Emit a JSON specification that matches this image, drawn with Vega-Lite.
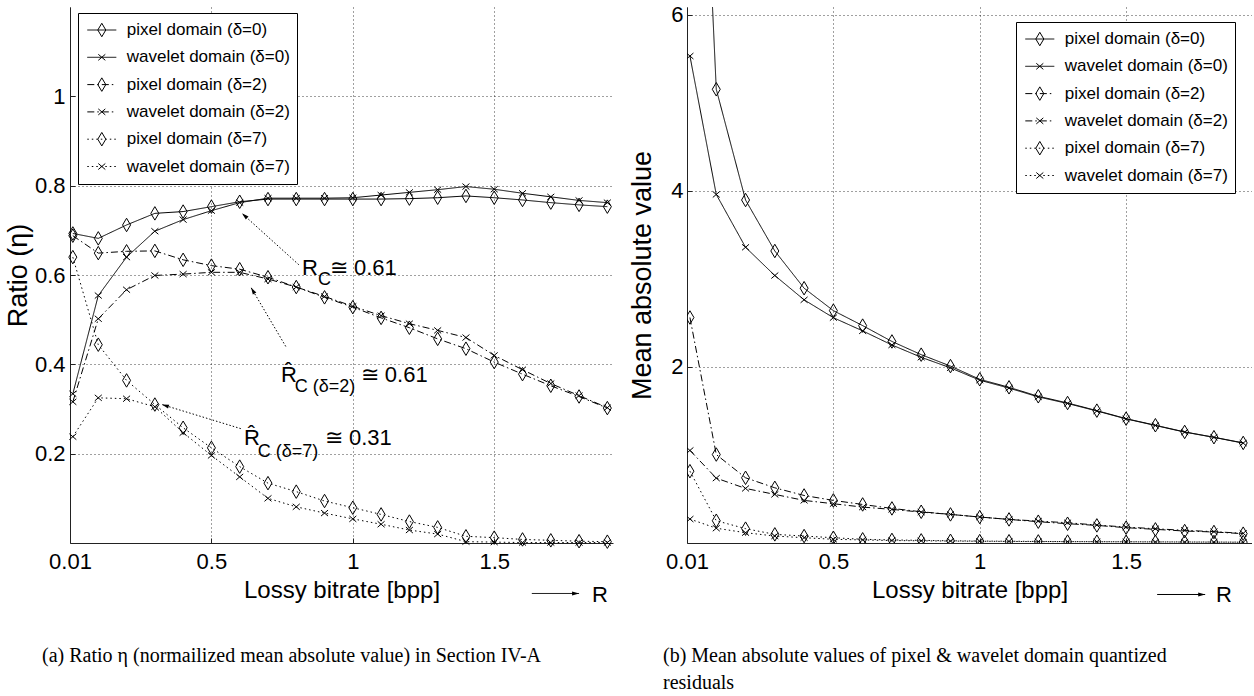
{
 "$schema": "https://vega.github.io/schema/vega-lite/v6.json",
 "background": "white",
 "padding": {"left": 4, "top": 3, "right": 0, "bottom": 0},
 "bounds": "flush",
 "spacing": 74,
 "config": {
  "view": {"stroke": null},
  "font": "Liberation Sans",
  "axis": {"labelFont": "Liberation Sans", "titleFont": "Liberation Sans", "labelColor": "black", "titleColor": "black", "titleFontWeight": "normal", "domainColor": "#222", "tickColor": "#222", "gridColor": "#000", "gridDash": [1, 3], "gridOpacity": 0.75, "labelFontSize": 22, "titleFontSize": 24, "tickSize": -5},
  "legend": {"labelFont": "Liberation Sans"},
  "title": {"font": "Liberation Serif"}
 },
 "datasets": {
  "ratio": [
   {"series":"pixel domain (δ=0)","x":0.01,"v":0.693},{"series":"pixel domain (δ=0)","x":0.1,"v":0.682},{"series":"pixel domain (δ=0)","x":0.2,"v":0.712},{"series":"pixel domain (δ=0)","x":0.3,"v":0.738},{"series":"pixel domain (δ=0)","x":0.4,"v":0.742},{"series":"pixel domain (δ=0)","x":0.5,"v":0.753},{"series":"pixel domain (δ=0)","x":0.6,"v":0.764},{"series":"pixel domain (δ=0)","x":0.7,"v":0.770},{"series":"pixel domain (δ=0)","x":0.8,"v":0.770},{"series":"pixel domain (δ=0)","x":0.9,"v":0.770},{"series":"pixel domain (δ=0)","x":1.0,"v":0.770},{"series":"pixel domain (δ=0)","x":1.1,"v":0.770},{"series":"pixel domain (δ=0)","x":1.2,"v":0.771},{"series":"pixel domain (δ=0)","x":1.3,"v":0.773},{"series":"pixel domain (δ=0)","x":1.4,"v":0.777},{"series":"pixel domain (δ=0)","x":1.5,"v":0.773},{"series":"pixel domain (δ=0)","x":1.6,"v":0.768},{"series":"pixel domain (δ=0)","x":1.7,"v":0.762},{"series":"pixel domain (δ=0)","x":1.8,"v":0.757},{"series":"pixel domain (δ=0)","x":1.9,"v":0.753},
   {"series":"wavelet domain (δ=0)","x":0.01,"v":0.334},{"series":"wavelet domain (δ=0)","x":0.1,"v":0.554},{"series":"wavelet domain (δ=0)","x":0.2,"v":0.640},{"series":"wavelet domain (δ=0)","x":0.3,"v":0.698},{"series":"wavelet domain (δ=0)","x":0.4,"v":0.724},{"series":"wavelet domain (δ=0)","x":0.5,"v":0.744},{"series":"wavelet domain (δ=0)","x":0.6,"v":0.762},{"series":"wavelet domain (δ=0)","x":0.7,"v":0.772},{"series":"wavelet domain (δ=0)","x":0.8,"v":0.772},{"series":"wavelet domain (δ=0)","x":0.9,"v":0.772},{"series":"wavelet domain (δ=0)","x":1.0,"v":0.773},{"series":"wavelet domain (δ=0)","x":1.1,"v":0.779},{"series":"wavelet domain (δ=0)","x":1.2,"v":0.785},{"series":"wavelet domain (δ=0)","x":1.3,"v":0.791},{"series":"wavelet domain (δ=0)","x":1.4,"v":0.798},{"series":"wavelet domain (δ=0)","x":1.5,"v":0.792},{"series":"wavelet domain (δ=0)","x":1.6,"v":0.783},{"series":"wavelet domain (δ=0)","x":1.7,"v":0.775},{"series":"wavelet domain (δ=0)","x":1.8,"v":0.767},{"series":"wavelet domain (δ=0)","x":1.9,"v":0.762},
   {"series":"pixel domain (δ=2)","x":0.01,"v":0.688},{"series":"pixel domain (δ=2)","x":0.1,"v":0.649},{"series":"pixel domain (δ=2)","x":0.2,"v":0.653},{"series":"pixel domain (δ=2)","x":0.3,"v":0.654},{"series":"pixel domain (δ=2)","x":0.4,"v":0.634},{"series":"pixel domain (δ=2)","x":0.5,"v":0.621},{"series":"pixel domain (δ=2)","x":0.6,"v":0.613},{"series":"pixel domain (δ=2)","x":0.7,"v":0.595},{"series":"pixel domain (δ=2)","x":0.8,"v":0.573},{"series":"pixel domain (δ=2)","x":0.9,"v":0.550},{"series":"pixel domain (δ=2)","x":1.0,"v":0.528},{"series":"pixel domain (δ=2)","x":1.1,"v":0.504},{"series":"pixel domain (δ=2)","x":1.2,"v":0.482},{"series":"pixel domain (δ=2)","x":1.3,"v":0.457},{"series":"pixel domain (δ=2)","x":1.4,"v":0.435},{"series":"pixel domain (δ=2)","x":1.5,"v":0.405},{"series":"pixel domain (δ=2)","x":1.6,"v":0.378},{"series":"pixel domain (δ=2)","x":1.7,"v":0.352},{"series":"pixel domain (δ=2)","x":1.8,"v":0.328},{"series":"pixel domain (δ=2)","x":1.9,"v":0.302},
   {"series":"wavelet domain (δ=2)","x":0.01,"v":0.316},{"series":"wavelet domain (δ=2)","x":0.1,"v":0.502},{"series":"wavelet domain (δ=2)","x":0.2,"v":0.567},{"series":"wavelet domain (δ=2)","x":0.3,"v":0.599},{"series":"wavelet domain (δ=2)","x":0.4,"v":0.602},{"series":"wavelet domain (δ=2)","x":0.5,"v":0.606},{"series":"wavelet domain (δ=2)","x":0.6,"v":0.606},{"series":"wavelet domain (δ=2)","x":0.7,"v":0.591},{"series":"wavelet domain (δ=2)","x":0.8,"v":0.573},{"series":"wavelet domain (δ=2)","x":0.9,"v":0.552},{"series":"wavelet domain (δ=2)","x":1.0,"v":0.530},{"series":"wavelet domain (δ=2)","x":1.1,"v":0.509},{"series":"wavelet domain (δ=2)","x":1.2,"v":0.491},{"series":"wavelet domain (δ=2)","x":1.3,"v":0.476},{"series":"wavelet domain (δ=2)","x":1.4,"v":0.460},{"series":"wavelet domain (δ=2)","x":1.5,"v":0.420},{"series":"wavelet domain (δ=2)","x":1.6,"v":0.388},{"series":"wavelet domain (δ=2)","x":1.7,"v":0.357},{"series":"wavelet domain (δ=2)","x":1.8,"v":0.330},{"series":"wavelet domain (δ=2)","x":1.9,"v":0.303},
   {"series":"pixel domain (δ=7)","x":0.01,"v":0.640},{"series":"pixel domain (δ=7)","x":0.1,"v":0.444},{"series":"pixel domain (δ=7)","x":0.2,"v":0.364},{"series":"pixel domain (δ=7)","x":0.3,"v":0.310},{"series":"pixel domain (δ=7)","x":0.4,"v":0.258},{"series":"pixel domain (δ=7)","x":0.5,"v":0.213},{"series":"pixel domain (δ=7)","x":0.6,"v":0.171},{"series":"pixel domain (δ=7)","x":0.7,"v":0.134},{"series":"pixel domain (δ=7)","x":0.8,"v":0.115},{"series":"pixel domain (δ=7)","x":0.9,"v":0.094},{"series":"pixel domain (δ=7)","x":1.0,"v":0.079},{"series":"pixel domain (δ=7)","x":1.1,"v":0.064},{"series":"pixel domain (δ=7)","x":1.2,"v":0.048},{"series":"pixel domain (δ=7)","x":1.3,"v":0.035},{"series":"pixel domain (δ=7)","x":1.4,"v":0.015},{"series":"pixel domain (δ=7)","x":1.5,"v":0.012},{"series":"pixel domain (δ=7)","x":1.6,"v":0.008},{"series":"pixel domain (δ=7)","x":1.7,"v":0.006},{"series":"pixel domain (δ=7)","x":1.8,"v":0.004},{"series":"pixel domain (δ=7)","x":1.9,"v":0.003},
   {"series":"wavelet domain (δ=7)","x":0.01,"v":0.238},{"series":"wavelet domain (δ=7)","x":0.1,"v":0.325},{"series":"wavelet domain (δ=7)","x":0.2,"v":0.323},{"series":"wavelet domain (δ=7)","x":0.3,"v":0.305},{"series":"wavelet domain (δ=7)","x":0.4,"v":0.247},{"series":"wavelet domain (δ=7)","x":0.5,"v":0.196},{"series":"wavelet domain (δ=7)","x":0.6,"v":0.148},{"series":"wavelet domain (δ=7)","x":0.7,"v":0.100},{"series":"wavelet domain (δ=7)","x":0.8,"v":0.081},{"series":"wavelet domain (δ=7)","x":0.9,"v":0.067},{"series":"wavelet domain (δ=7)","x":1.0,"v":0.054},{"series":"wavelet domain (δ=7)","x":1.1,"v":0.042},{"series":"wavelet domain (δ=7)","x":1.2,"v":0.029},{"series":"wavelet domain (δ=7)","x":1.3,"v":0.020},{"series":"wavelet domain (δ=7)","x":1.4,"v":0.003},{"series":"wavelet domain (δ=7)","x":1.5,"v":0.002},{"series":"wavelet domain (δ=7)","x":1.6,"v":0.001},{"series":"wavelet domain (δ=7)","x":1.7,"v":0.001},{"series":"wavelet domain (δ=7)","x":1.8,"v":0.001},{"series":"wavelet domain (δ=7)","x":1.9,"v":0.001}
  ],
  "mav": [
   {"series":"pixel domain (δ=0)","x":0.01,"v":11.7},{"series":"pixel domain (δ=0)","x":0.1,"v":5.155},{"series":"pixel domain (δ=0)","x":0.2,"v":3.897},{"series":"pixel domain (δ=0)","x":0.3,"v":3.318},{"series":"pixel domain (δ=0)","x":0.4,"v":2.895},{"series":"pixel domain (δ=0)","x":0.5,"v":2.64},{"series":"pixel domain (δ=0)","x":0.6,"v":2.47},{"series":"pixel domain (δ=0)","x":0.7,"v":2.29},{"series":"pixel domain (δ=0)","x":0.8,"v":2.14},{"series":"pixel domain (δ=0)","x":0.9,"v":2.01},{"series":"pixel domain (δ=0)","x":1.0,"v":1.86},{"series":"pixel domain (δ=0)","x":1.1,"v":1.769},{"series":"pixel domain (δ=0)","x":1.2,"v":1.667},{"series":"pixel domain (δ=0)","x":1.3,"v":1.591},{"series":"pixel domain (δ=0)","x":1.4,"v":1.504},{"series":"pixel domain (δ=0)","x":1.5,"v":1.413},{"series":"pixel domain (δ=0)","x":1.6,"v":1.338},{"series":"pixel domain (δ=0)","x":1.7,"v":1.262},{"series":"pixel domain (δ=0)","x":1.8,"v":1.202},{"series":"pixel domain (δ=0)","x":1.9,"v":1.137},
   {"series":"wavelet domain (δ=0)","x":0.01,"v":5.533},{"series":"wavelet domain (δ=0)","x":0.1,"v":3.96},{"series":"wavelet domain (δ=0)","x":0.2,"v":3.36},{"series":"wavelet domain (δ=0)","x":0.3,"v":3.039},{"series":"wavelet domain (δ=0)","x":0.4,"v":2.763},{"series":"wavelet domain (δ=0)","x":0.5,"v":2.56},{"series":"wavelet domain (δ=0)","x":0.6,"v":2.41},{"series":"wavelet domain (δ=0)","x":0.7,"v":2.25},{"series":"wavelet domain (δ=0)","x":0.8,"v":2.11},{"series":"wavelet domain (δ=0)","x":0.9,"v":1.99},{"series":"wavelet domain (δ=0)","x":1.0,"v":1.85},{"series":"wavelet domain (δ=0)","x":1.1,"v":1.76},{"series":"wavelet domain (δ=0)","x":1.2,"v":1.66},{"series":"wavelet domain (δ=0)","x":1.3,"v":1.585},{"series":"wavelet domain (δ=0)","x":1.4,"v":1.5},{"series":"wavelet domain (δ=0)","x":1.5,"v":1.41},{"series":"wavelet domain (δ=0)","x":1.6,"v":1.335},{"series":"wavelet domain (δ=0)","x":1.7,"v":1.26},{"series":"wavelet domain (δ=0)","x":1.8,"v":1.2},{"series":"wavelet domain (δ=0)","x":1.9,"v":1.135},
   {"series":"pixel domain (δ=2)","x":0.01,"v":2.562},{"series":"pixel domain (δ=2)","x":0.1,"v":1.005},{"series":"pixel domain (δ=2)","x":0.2,"v":0.741},{"series":"pixel domain (δ=2)","x":0.3,"v":0.627},{"series":"pixel domain (δ=2)","x":0.4,"v":0.54},{"series":"pixel domain (δ=2)","x":0.5,"v":0.484},{"series":"pixel domain (δ=2)","x":0.6,"v":0.438},{"series":"pixel domain (δ=2)","x":0.7,"v":0.393},{"series":"pixel domain (δ=2)","x":0.8,"v":0.355},{"series":"pixel domain (δ=2)","x":0.9,"v":0.325},{"series":"pixel domain (δ=2)","x":1.0,"v":0.295},{"series":"pixel domain (δ=2)","x":1.1,"v":0.268},{"series":"pixel domain (δ=2)","x":1.2,"v":0.242},{"series":"pixel domain (δ=2)","x":1.3,"v":0.219},{"series":"pixel domain (δ=2)","x":1.4,"v":0.2},{"series":"pixel domain (δ=2)","x":1.5,"v":0.174},{"series":"pixel domain (δ=2)","x":1.6,"v":0.155},{"series":"pixel domain (δ=2)","x":1.7,"v":0.136},{"series":"pixel domain (δ=2)","x":1.8,"v":0.125},{"series":"pixel domain (δ=2)","x":1.9,"v":0.106},
   {"series":"wavelet domain (δ=2)","x":0.01,"v":1.052},{"series":"wavelet domain (δ=2)","x":0.1,"v":0.737},{"series":"wavelet domain (δ=2)","x":0.2,"v":0.62},{"series":"wavelet domain (δ=2)","x":0.3,"v":0.552},{"series":"wavelet domain (δ=2)","x":0.4,"v":0.484},{"series":"wavelet domain (δ=2)","x":0.5,"v":0.446},{"series":"wavelet domain (δ=2)","x":0.6,"v":0.408},{"series":"wavelet domain (δ=2)","x":0.7,"v":0.382},{"series":"wavelet domain (δ=2)","x":0.8,"v":0.351},{"series":"wavelet domain (δ=2)","x":0.9,"v":0.325},{"series":"wavelet domain (δ=2)","x":1.0,"v":0.295},{"series":"wavelet domain (δ=2)","x":1.1,"v":0.268},{"series":"wavelet domain (δ=2)","x":1.2,"v":0.249},{"series":"wavelet domain (δ=2)","x":1.3,"v":0.23},{"series":"wavelet domain (δ=2)","x":1.4,"v":0.204},{"series":"wavelet domain (δ=2)","x":1.5,"v":0.181},{"series":"wavelet domain (δ=2)","x":1.6,"v":0.162},{"series":"wavelet domain (δ=2)","x":1.7,"v":0.144},{"series":"wavelet domain (δ=2)","x":1.8,"v":0.129},{"series":"wavelet domain (δ=2)","x":1.9,"v":0.11},
   {"series":"pixel domain (δ=7)","x":0.01,"v":0.816},{"series":"pixel domain (δ=7)","x":0.1,"v":0.253},{"series":"pixel domain (δ=7)","x":0.2,"v":0.163},{"series":"pixel domain (δ=7)","x":0.3,"v":0.098},{"series":"pixel domain (δ=7)","x":0.4,"v":0.079},{"series":"pixel domain (δ=7)","x":0.5,"v":0.06},{"series":"pixel domain (δ=7)","x":0.6,"v":0.042},{"series":"pixel domain (δ=7)","x":0.7,"v":0.035},{"series":"pixel domain (δ=7)","x":0.8,"v":0.03},{"series":"pixel domain (δ=7)","x":0.9,"v":0.025},{"series":"pixel domain (δ=7)","x":1.0,"v":0.022},{"series":"pixel domain (δ=7)","x":1.1,"v":0.02},{"series":"pixel domain (δ=7)","x":1.2,"v":0.018},{"series":"pixel domain (δ=7)","x":1.3,"v":0.016},{"series":"pixel domain (δ=7)","x":1.4,"v":0.015},{"series":"pixel domain (δ=7)","x":1.5,"v":0.014},{"series":"pixel domain (δ=7)","x":1.6,"v":0.013},{"series":"pixel domain (δ=7)","x":1.7,"v":0.012},{"series":"pixel domain (δ=7)","x":1.8,"v":0.011},{"series":"pixel domain (δ=7)","x":1.9,"v":0.01},
   {"series":"wavelet domain (δ=7)","x":0.01,"v":0.272},{"series":"wavelet domain (δ=7)","x":0.1,"v":0.168},{"series":"wavelet domain (δ=7)","x":0.2,"v":0.117},{"series":"wavelet domain (δ=7)","x":0.3,"v":0.079},{"series":"wavelet domain (δ=7)","x":0.4,"v":0.06},{"series":"wavelet domain (δ=7)","x":0.5,"v":0.042},{"series":"wavelet domain (δ=7)","x":0.6,"v":0.035},{"series":"wavelet domain (δ=7)","x":0.7,"v":0.028},{"series":"wavelet domain (δ=7)","x":0.8,"v":0.025},{"series":"wavelet domain (δ=7)","x":0.9,"v":0.022},{"series":"wavelet domain (δ=7)","x":1.0,"v":0.02},{"series":"wavelet domain (δ=7)","x":1.1,"v":0.018},{"series":"wavelet domain (δ=7)","x":1.2,"v":0.016},{"series":"wavelet domain (δ=7)","x":1.3,"v":0.015},{"series":"wavelet domain (δ=7)","x":1.4,"v":0.014},{"series":"wavelet domain (δ=7)","x":1.5,"v":0.013},{"series":"wavelet domain (δ=7)","x":1.6,"v":0.012},{"series":"wavelet domain (δ=7)","x":1.7,"v":0.011},{"series":"wavelet domain (δ=7)","x":1.8,"v":0.01},{"series":"wavelet domain (δ=7)","x":1.9,"v":0.009}
  ],
  "arrowsL": [
   {"id":"1","x":0.809,"v":0.623,"x2":0.608,"v2":0.738},
   {"id":"2","x":0.763,"v":0.440,"x2":0.640,"v2":0.572},
   {"id":"3","x":0.604,"v":0.256,"x2":0.325,"v2":0.310},
   {"id":"R","x":1.633,"v":-0.113,"x2":1.80,"v2":-0.113}
  ],
  "annL": [
   {"label":"R","kind":"main","x":0.820,"v":0.601},
   {"label":"C","kind":"sub","x":0.877,"v":0.578},
   {"label":"≅ 0.61","kind":"main","x":0.919,"v":0.601},
   {"label":"R̂","kind":"main","x":0.746,"v":0.3615},
   {"label":"C (δ=2)","kind":"sub","x":0.795,"v":0.338},
   {"label":"≅ 0.61","kind":"main","x":1.028,"v":0.3615},
   {"label":"R̂","kind":"main","x":0.615,"v":0.2205},
   {"label":"C (δ=7)","kind":"sub","x":0.664,"v":0.192},
   {"label":"≅ 0.31","kind":"main","x":0.901,"v":0.2205},
   {"label":"R","kind":"main","x":1.846,"v":-0.131}
  ],
  "arrowsR": [
   {"id":"R","x":1.606,"v":-0.585,"x2":1.77,"v2":-0.585}
  ],
  "annR": [
   {"label":"R","kind":"main","x":1.807,"v":-0.676}
  ]
 },
 "resolve": {"scale": {"shape": "independent", "strokeDash": "independent"}, "legend": {"shape": "independent", "strokeDash": "independent"}},
 "hconcat": [
  {
   "width": 543, "height": 536,
   "title": {"text": "(a) Ratio η (normailized mean absolute value) in Section IV-A", "orient": "bottom", "anchor": "start", "frame": "group", "fontSize": 20, "fontWeight": "normal", "color": "black", "offset": 40, "dx": -28},
   "layer": [
    {
     "data": {"name": "ratio"},
     "mark": {"type": "line", "color": "black", "strokeWidth": 1},
     "encoding": {
      "x": {"field": "x", "type": "quantitative", "scale": {"domain": [0, 1.92], "nice": false, "zero": false},
            "axis": {"values": [0, 0.5, 1, 1.5], "labelExpr": "datum.value == 0 ? '0.01' : format(datum.value, '~g')", "title": "Lossy bitrate [bpp]", "grid": true, "labelPadding": 13, "titlePadding": 6, "labelFlush": false}},
      "y": {"field": "v", "type": "quantitative", "scale": {"domain": [0, 1.2], "nice": false},
            "axis": {"values": [0.2, 0.4, 0.6, 0.8, 1], "format": "~g", "title": "Ratio (η)", "titleFontSize": 27, "grid": true, "labelPadding": 10, "titlePadding": 2}},
      "strokeDash": {"field": "series", "type": "nominal",
        "sort": ["pixel domain (δ=0)", "wavelet domain (δ=0)", "pixel domain (δ=2)", "wavelet domain (δ=2)", "pixel domain (δ=7)", "wavelet domain (δ=7)"],
        "scale": {"range": [[1, 0], [1, 0], [7, 3, 1.5, 3], [7, 3, 1.5, 3], [1.5, 3], [1.5, 3]]},
        "legend": {"orient": "none", "legendX": 8, "legendY": 6, "title": null, "symbolType": "stroke", "symbolSize": 841, "symbolStrokeWidth": 1, "symbolStrokeColor": "black", "symbolOffset": 1.8, "labelOffset": 10, "labelFontSize": 17, "labelColor": "black", "labelLimit": 400, "clipHeight": 20, "rowPadding": 7.3, "padding": 7, "strokeColor": "black", "fillColor": "white", "zindex": 1}}
     }
    },
    {
     "data": {"name": "ratio"},
     "mark": {"type": "point", "filled": false, "color": "black", "strokeWidth": 1, "size": 100, "opacity": 1},
     "encoding": {
      "x": {"field": "x", "type": "quantitative"},
      "y": {"field": "v", "type": "quantitative"},
      "shape": {"field": "series", "type": "nominal",
        "scale": {"domain": ["pixel domain (δ=0)", "wavelet domain (δ=0)", "pixel domain (δ=2)", "wavelet domain (δ=2)", "pixel domain (δ=7)", "wavelet domain (δ=7)"],
                  "range": ["M0,-1.35L0.8,0L0,1.35L-0.8,0Z", "M-0.7,-0.6L0.7,0.6M-0.7,0.6L0.7,-0.6", "M0,-1.35L0.8,0L0,1.35L-0.8,0Z", "M-0.7,-0.6L0.7,0.6M-0.7,0.6L0.7,-0.6", "M0,-1.35L0.8,0L0,1.35L-0.8,0Z", "M-0.7,-0.6L0.7,0.6M-0.7,0.6L0.7,-0.6"]},
        "legend": {"orient": "none", "legendX": 8, "legendY": 6, "title": null, "symbolSize": 100, "symbolStrokeWidth": 1, "symbolStrokeColor": "black", "symbolFillColor": "white", "symbolOpacity": 1, "symbolOffset": 8.3, "labelOffset": 23, "labelFontSize": 17, "labelExpr": "''", "clipHeight": 20, "rowPadding": 7.3, "padding": 7, "zindex": 2}}
     }
    },
    {
     "data": {"name": "arrowsL"},
     "mark": {"type": "rule", "color": "black", "strokeWidth": 1},
     "encoding": {
      "x": {"field": "x", "type": "quantitative"},
      "y": {"field": "v", "type": "quantitative"},
      "x2": {"field": "x2"},
      "y2": {"field": "v2"},
      "strokeDash": {"condition": {"test": "datum.id == 'R'", "value": [1, 0]}, "value": [1.5, 2]}
     }
    },
    {
     "data": {"name": "arrowsL"},
     "mark": {"type": "point", "shape": "M0,0L0.7,2.4L-0.7,2.4Z", "filled": true, "color": "black", "size": 34, "strokeWidth": 0, "opacity": 1},
     "encoding": {
      "x": {"field": "x2", "type": "quantitative"},
      "y": {"field": "v2", "type": "quantitative"},
      "angle": {"condition": [{"test": "datum.id == '1'", "value": 312}, {"test": "datum.id == '2'", "value": 329}, {"test": "datum.id == '3'", "value": 287}], "value": 90}
     }
    },
    {
     "data": {"name": "annL"},
     "transform": [{"filter": "datum.kind == 'main'"}],
     "mark": {"type": "text", "align": "left", "baseline": "alphabetic", "fontSize": 22, "color": "black", "font": "Liberation Sans"},
     "encoding": {
      "x": {"field": "x", "type": "quantitative"},
      "y": {"field": "v", "type": "quantitative"},
      "text": {"field": "label"}
     }
    },
    {
     "data": {"name": "annL"},
     "transform": [{"filter": "datum.kind == 'sub'"}],
     "mark": {"type": "text", "align": "left", "baseline": "alphabetic", "fontSize": 18, "color": "black", "font": "Liberation Sans"},
     "encoding": {
      "x": {"field": "x", "type": "quantitative"},
      "y": {"field": "v", "type": "quantitative"},
      "text": {"field": "label"}
     }
    }
   ]
  },
  {
   "width": 565, "height": 536,
   "title": {"text": ["(b) Mean absolute values of pixel & wavelet domain quantized", "residuals"], "orient": "bottom", "anchor": "start", "frame": "group", "fontSize": 20, "fontWeight": "normal", "color": "black", "offset": 40, "dx": -24, "lineHeight": 27},
   "layer": [
    {
     "data": {"name": "mav"},
     "mark": {"type": "line", "color": "black", "strokeWidth": 1, "clip": true},
     "encoding": {
      "x": {"field": "x", "type": "quantitative", "scale": {"domain": [0, 1.93], "nice": false, "zero": false},
            "axis": {"values": [0, 0.5, 1, 1.5], "labelExpr": "datum.value == 0 ? '0.01' : format(datum.value, '~g')", "title": "Lossy bitrate [bpp]", "grid": true, "labelPadding": 13, "titlePadding": 6, "labelFlush": false}},
      "y": {"field": "v", "type": "quantitative", "scale": {"domain": [0, 6.09], "nice": false},
            "axis": {"values": [2, 4, 6], "format": "~g", "title": "Mean absolute value", "titleFontSize": 27, "grid": true, "labelPadding": 9, "titlePadding": 14}},
      "strokeDash": {"field": "series", "type": "nominal",
        "sort": ["pixel domain (δ=0)", "wavelet domain (δ=0)", "pixel domain (δ=2)", "wavelet domain (δ=2)", "pixel domain (δ=7)", "wavelet domain (δ=7)"],
        "scale": {"range": [[1, 0], [1, 0], [7, 3, 1.5, 3], [7, 3, 1.5, 3], [1.5, 3], [1.5, 3]]},
        "legend": {"orient": "none", "legendX": 329, "legendY": 15, "title": null, "symbolType": "stroke", "symbolSize": 841, "symbolStrokeWidth": 1, "symbolStrokeColor": "black", "symbolOffset": 1.8, "labelOffset": 10, "labelFontSize": 17, "labelColor": "black", "labelLimit": 400, "clipHeight": 20, "rowPadding": 7.3, "padding": 7, "strokeColor": "black", "fillColor": "white", "zindex": 1}}
     }
    },
    {
     "data": {"name": "mav"},
     "mark": {"type": "point", "filled": false, "color": "black", "strokeWidth": 1, "size": 100, "opacity": 1, "clip": true},
     "encoding": {
      "x": {"field": "x", "type": "quantitative"},
      "y": {"field": "v", "type": "quantitative"},
      "shape": {"field": "series", "type": "nominal",
        "scale": {"domain": ["pixel domain (δ=0)", "wavelet domain (δ=0)", "pixel domain (δ=2)", "wavelet domain (δ=2)", "pixel domain (δ=7)", "wavelet domain (δ=7)"],
                  "range": ["M0,-1.35L0.8,0L0,1.35L-0.8,0Z", "M-0.7,-0.6L0.7,0.6M-0.7,0.6L0.7,-0.6", "M0,-1.35L0.8,0L0,1.35L-0.8,0Z", "M-0.7,-0.6L0.7,0.6M-0.7,0.6L0.7,-0.6", "M0,-1.35L0.8,0L0,1.35L-0.8,0Z", "M-0.7,-0.6L0.7,0.6M-0.7,0.6L0.7,-0.6"]},
        "legend": {"orient": "none", "legendX": 329, "legendY": 15, "title": null, "symbolSize": 100, "symbolStrokeWidth": 1, "symbolStrokeColor": "black", "symbolFillColor": "white", "symbolOpacity": 1, "symbolOffset": 8.3, "labelOffset": 23, "labelFontSize": 17, "labelExpr": "''", "clipHeight": 20, "rowPadding": 7.3, "padding": 7, "zindex": 2}}
     }
    },
    {
     "data": {"name": "arrowsR"},
     "mark": {"type": "rule", "color": "black", "strokeWidth": 1},
     "encoding": {
      "x": {"field": "x", "type": "quantitative"},
      "y": {"field": "v", "type": "quantitative"},
      "x2": {"field": "x2"},
      "y2": {"field": "v2"}
     }
    },
    {
     "data": {"name": "arrowsR"},
     "mark": {"type": "point", "shape": "M0,0L0.7,2.4L-0.7,2.4Z", "filled": true, "color": "black", "size": 34, "strokeWidth": 0, "opacity": 1, "angle": 90},
     "encoding": {
      "x": {"field": "x2", "type": "quantitative"},
      "y": {"field": "v2", "type": "quantitative"}
     }
    },
    {
     "data": {"name": "annR"},
     "mark": {"type": "text", "align": "left", "baseline": "alphabetic", "fontSize": 22, "color": "black", "font": "Liberation Sans"},
     "encoding": {
      "x": {"field": "x", "type": "quantitative"},
      "y": {"field": "v", "type": "quantitative"},
      "text": {"field": "label"}
     }
    }
   ]
  }
 ]
}
